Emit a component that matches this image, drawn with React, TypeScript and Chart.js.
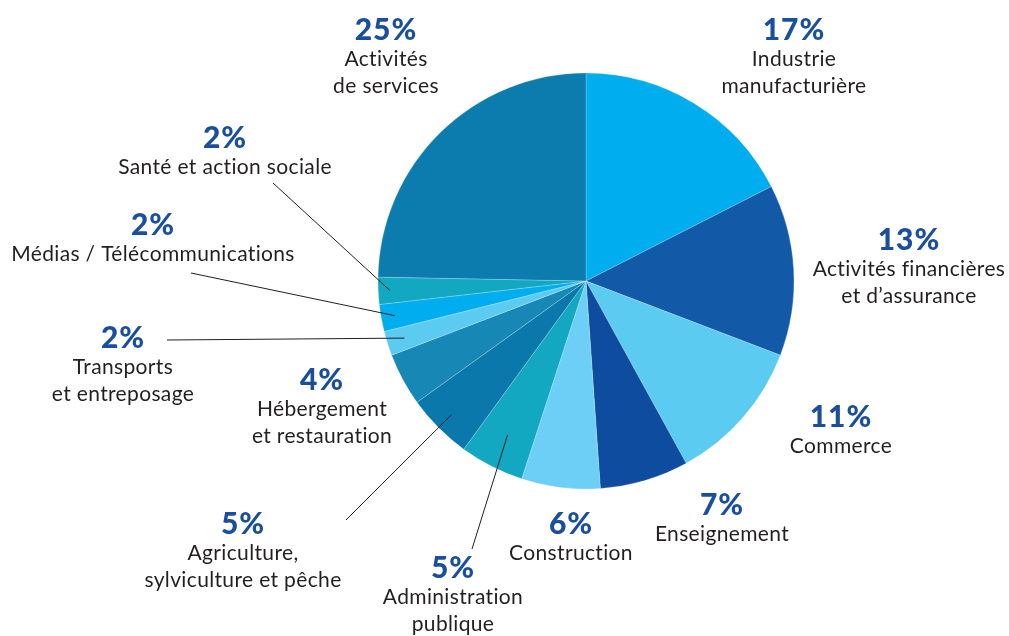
import React, { useEffect, useRef } from "react";
import { Chart, registerables } from "chart.js";

Chart.register(...registerables);

// Sectors, clockwise from 12 o'clock
const categories: string[][] = [
  ["Industrie", "manufacturière"],
  ["Activités financières", "et d’assurance"],
  ["Commerce"],
  ["Enseignement"],
  ["Construction"],
  ["Administration", "publique"],
  ["Agriculture,", "sylviculture et pêche"],
  ["Hébergement", "et restauration"],
  ["Transports", "et entreposage"],
  ["Médias / Télécommunications"],
  ["Santé et action sociale"],
  ["Activités", "de services"],
];

const shares: number[] = [17.5, 13.3, 11.2, 6.9, 6.1, 5.0, 5.1, 4.1, 1.9, 2.1, 2.1, 24.7];

// Printed percentage labels
const pctLabels: string[] = ["17%", "13%", "11%", "7%", "6%", "5%", "5%", "4%", "2%", "2%", "2%", "25%"];

const sliceColors: string[] = [
  "#00AEEF",
  "#1259A8",
  "#5BCBF2",
  "#0D4C9F",
  "#6DCFF6",
  "#12A8C2",
  "#0B78AB",
  "#1788B6",
  "#5BCBF2",
  "#00AEEF",
  "#12A8C2",
  "#0C7BAE",
];

// Layout: label centre (x, y of percentage line) in page pixels
const labelPos: [number, number][] = [
  [794, 30],
  [909, 240],
  [841, 417],
  [722, 505],
  [571, 524],
  [453, 568],
  [243, 524],
  [322, 380],
  [123, 338],
  [153, 225],
  [225, 138],
  [386, 30],
];

// Leader lines: [label index, start x, start y, radius fraction inside the slice]
const leaders: [number, number, number, number][] = [
  [10, 273, 183, 0.945],
  [9, 191, 273, 0.935],
  [8, 167, 340, 0.915],
  [6, 346, 520, 0.91],
  [5, 472, 549, 0.83],
];

const FONT = "Lato, 'Open Sans', sans-serif";

const labelPlugin = {
  id: "sliceLabels",
  afterDraw(chart: any) {
    const ctx = chart.ctx as any;
    const meta = chart.getDatasetMeta(0);
    ctx.save();
    // leader lines
    ctx.strokeStyle = "#231F20";
    ctx.lineWidth = 1;
    leaders.forEach(([i, sx, sy, frac]) => {
      const arc: any = meta.data[i];
      const a = (arc.startAngle + arc.endAngle) / 2;
      const r = arc.outerRadius * frac;
      const ex = arc.x + Math.cos(a) * r;
      const ey = arc.y + Math.sin(a) * r;
      ctx.beginPath();
      ctx.moveTo(sx, sy);
      ctx.lineTo(ex, ey);
      ctx.stroke();
    });
    // labels
    ctx.textAlign = "center";
    ctx.textBaseline = "middle";
    categories.forEach((lines, i) => {
      const [x, y] = labelPos[i];
      ctx.fillStyle = "#1A4E9E";
      ctx.font = `900 30px ${FONT}`;
      ctx.letterSpacing = "1px";
      ctx.fillText(pctLabels[i], x, y);
      ctx.fillStyle = "#231F20";
      ctx.font = `400 21px ${FONT}`;
      ctx.letterSpacing = "0.35px";
      lines.forEach((t, j) => {
        ctx.fillText(t, x, y + 29 + j * 27);
      });
    });
    ctx.restore();
  },
};

export default function App() {
  const ref = useRef<HTMLCanvasElement>(null);
  useEffect(() => {
    if (!ref.current) return;
    const chart = new Chart(ref.current, {
      type: "pie",
      data: {
        labels: categories.map((c) => c.join(" ")),
        datasets: [
          {
            data: shares,
            backgroundColor: sliceColors,
            borderColor: "rgba(255,255,255,0.35)",
            borderWidth: 0.6,
          },
        ],
      },
      options: {
        animation: false,
        responsive: false,
        radius: 208,
        layout: { padding: { left: 378, top: 73, right: 215, bottom: 147 } },
        plugins: {
          legend: { display: false },
          tooltip: { enabled: false },
        },
      } as any,
      plugins: [labelPlugin],
    });
    return () => chart.destroy();
  }, []);
  return (
    <div style={{ position: "fixed", left: 0, top: 0, width: 1009, height: 636, background: "#fff" }}>
      <canvas ref={ref} width={1009} height={636} style={{ width: 1009, height: 636 }} />
    </div>
  );
}
